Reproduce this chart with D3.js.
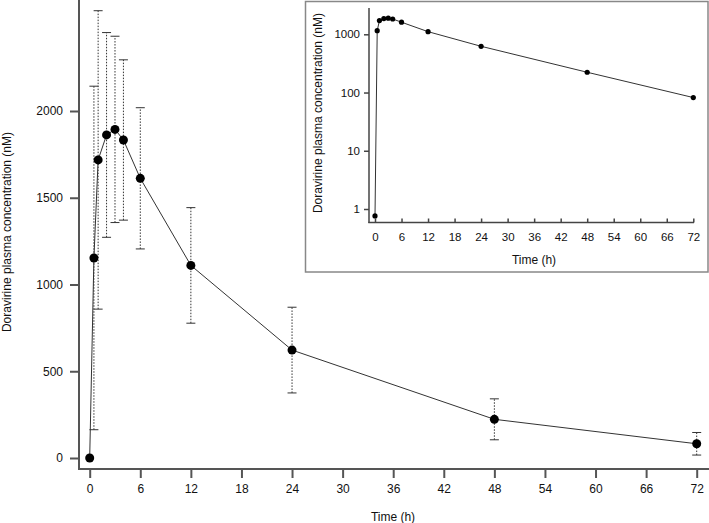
<!DOCTYPE html>
<html>
<head>
<meta charset="utf-8">
<script src="https://cdn.jsdelivr.net/npm/d3@7"></script>
<style>
  body { margin: 0; background: #fff; }
  text { font-family: "Liberation Sans", Arial, Helvetica, sans-serif; fill: #111; }
</style>
</head>
<body>
<div id="chart"></div>
<script>
// sampling times (h) and doravirine concentrations (nM), mean +/- SD
var times = [0, 0.5, 1, 2, 3, 4, 6, 12, 24, 48, 72];
var meanConc = [0, 1153, 1718, 1862, 1894, 1833, 1612, 1110, 622, 223, 82];
var sdConc = [0, 990, 860, 590, 537, 462, 407, 333, 247, 118, 65];
// predose value as plotted on the log inset
var predoseLogValue = 0.76;

var xTicks = [0, 6, 12, 18, 24, 30, 36, 42, 48, 54, 60, 66, 72];
var yTicks = [0, 500, 1000, 1500, 2000];
var logTicks = [1, 10, 100, 1000];

var yLabel = "Doravirine plasma concentration (nM)";
var xLabel = "Time (h)";

var width = 709, height = 523;
var data = times.map(function(t, i) {
   return {t: t, mean: meanConc[i], sd: sdConc[i]};
});

var svg = d3.select("#chart").append("svg")
   .attr("width", width)
   .attr("height", height);

// ---------- main plot ----------
var x = d3.scaleLinear().domain([0, 72]).range([89.7, 696.7]);
var y = d3.scaleLinear().domain([0, 2000]).range([458, 111]);

var main = svg.append("g");

// axis lines (drawn by hand, R style open box)
main.append("line")
   .attr("x1", 79).attr("x2", 79).attr("y1", 0).attr("y2", 469.5)
   .attr("stroke", "#555").attr("stroke-width", 2);
main.append("line")
   .attr("x1", 78).attr("x2", 709).attr("y1", 469).attr("y2", 469)
   .attr("stroke", "#555").attr("stroke-width", 2);

var xAxis = main.append("g")
   .attr("transform", "translate(0,469)")
   .call(d3.axisBottom(x).tickValues(xTicks).tickSize(9).tickPadding(6));
xAxis.select(".domain").remove();
xAxis.selectAll("line").attr("stroke", "#555").attr("stroke-width", 2);
xAxis.selectAll("text").attr("font-size", 12).attr("font-family", null).attr("fill", "#111");

var yAxis = main.append("g")
   .attr("transform", "translate(79,0)")
   .call(d3.axisLeft(y).tickValues(yTicks).tickSize(9).tickPadding(7).tickFormat(d3.format("d")));
yAxis.select(".domain").remove();
yAxis.selectAll("line").attr("stroke", "#555").attr("stroke-width", 2);
yAxis.selectAll("text").attr("font-size", 12).attr("font-family", null).attr("fill", "#111");

main.append("text")
   .attr("transform", "translate(11,232) rotate(-90)")
   .attr("text-anchor", "middle")
   .attr("font-size", 12)
   .text(yLabel);
main.append("text")
   .attr("x", 393).attr("y", 521)
   .attr("text-anchor", "middle")
   .attr("font-size", 12)
   .text(xLabel);

// error bars
var bars = main.selectAll(".err")
   .data(data.filter(function(d) { return d.sd > 0; }))
   .enter().append("g")
   .attr("class", "err");
bars.append("line")
   .attr("x1", function(d) { return x(d.t); })
   .attr("x2", function(d) { return x(d.t); })
   .attr("y1", function(d) { return y(d.mean - d.sd); })
   .attr("y2", function(d) { return y(d.mean + d.sd); })
   .attr("stroke", "#333").attr("stroke-width", 1)
   .attr("stroke-dasharray", "1.5,1.5");
[-1, 1].forEach(function(s) {
   bars.append("line")
      .attr("x1", function(d) { return x(d.t) - 4.5; })
      .attr("x2", function(d) { return x(d.t) + 4.5; })
      .attr("y1", function(d) { return y(d.mean + s * d.sd); })
      .attr("y2", function(d) { return y(d.mean + s * d.sd); })
      .attr("stroke", "#333").attr("stroke-width", 1);
});

var line = d3.line()
   .x(function(d) { return x(d.t); })
   .y(function(d) { return y(d.mean); });
main.append("path")
   .datum(data)
   .attr("d", line)
   .attr("fill", "none")
   .attr("stroke", "#333")
   .attr("stroke-width", 1);

main.selectAll(".pt")
   .data(data)
   .enter().append("circle")
   .attr("class", "pt")
   .attr("cx", function(d) { return x(d.t); })
   .attr("cy", function(d) { return y(d.mean); })
   .attr("r", 4.5)
   .attr("fill", "#000");

// ---------- inset (log scale) ----------
var inset = svg.append("g");
inset.append("rect")
   .attr("x", 305.5).attr("y", 1.5)
   .attr("width", 402.5).attr("height", 270.5)
   .attr("fill", "#fff")
   .attr("stroke", "#888").attr("stroke-width", 1.5);

var xi = d3.scaleLinear().domain([0, 72]).range([375, 693.3]);
var yi = d3.scaleLog().domain([1, 1000]).range([209, 34.3]);

inset.append("line")
   .attr("x1", 369).attr("x2", 369).attr("y1", 8).attr("y2", 223)
   .attr("stroke", "#444").attr("stroke-width", 1.5);
inset.append("line")
   .attr("x1", 368.3).attr("x2", 694).attr("y1", 222.5).attr("y2", 222.5)
   .attr("stroke", "#444").attr("stroke-width", 1.5);

var xiAxis = inset.append("g")
   .attr("transform", "translate(0,222.5)")
   .call(d3.axisBottom(xi).tickValues(xTicks).tickSize(-4).tickPadding(10));
xiAxis.select(".domain").remove();
xiAxis.selectAll("line").attr("stroke", "#444").attr("stroke-width", 1.5);
xiAxis.selectAll("text").attr("font-size", 11.5).attr("font-family", null).attr("fill", "#111");

var yiAxis = inset.append("g")
   .attr("transform", "translate(369,0)")
   .call(d3.axisLeft(yi).tickValues(logTicks).tickSize(5).tickPadding(4).tickFormat(d3.format("d")));
yiAxis.select(".domain").remove();
yiAxis.selectAll("line").attr("stroke", "#444").attr("stroke-width", 1.5);
yiAxis.selectAll("text").attr("font-size", 11.5).attr("font-family", null).attr("fill", "#111");

inset.append("text")
   .attr("transform", "translate(322,113) rotate(-90)")
   .attr("text-anchor", "middle")
   .attr("font-size", 12)
   .text(yLabel);
inset.append("text")
   .attr("x", 534).attr("y", 264)
   .attr("text-anchor", "middle")
   .attr("font-size", 12)
   .text(xLabel);

var logData = data.map(function(d) {
   return {t: d.t, v: d.mean > 0 ? d.mean : predoseLogValue};
});
var lineI = d3.line()
   .x(function(d) { return xi(d.t); })
   .y(function(d) { return yi(d.v); });
inset.append("path")
   .datum(logData)
   .attr("d", lineI)
   .attr("fill", "none")
   .attr("stroke", "#333")
   .attr("stroke-width", 1);
inset.selectAll(".ipt")
   .data(logData)
   .enter().append("circle")
   .attr("class", "ipt")
   .attr("cx", function(d) { return xi(d.t); })
   .attr("cy", function(d) { return yi(d.v); })
   .attr("r", 2.6)
   .attr("fill", "#000");
</script>
</body>
</html>
